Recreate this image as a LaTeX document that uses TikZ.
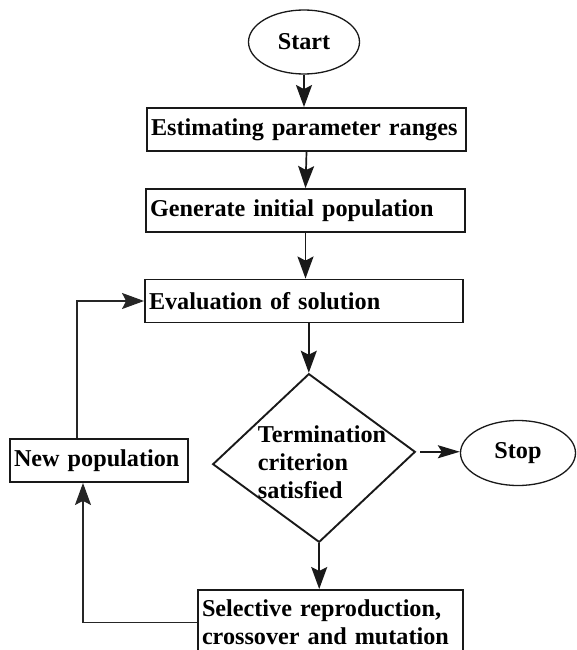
\documentclass[tikz,border=0pt]{standalone}
\usepackage{fontspec}
\setmainfont{Liberation Serif}
\usetikzlibrary{shapes.geometric, arrows.meta, positioning, calc}

\begin{document}
\begin{tikzpicture}[
    x=1pt, y=-1pt,
    font=\fontsize{24.2}{28}\selectfont\bfseries,
    >={Stealth[length=22pt, width=16pt, inset=4pt]},
    termnode/.style={draw=black!90, ellipse, line width=1.3pt, inner sep=0pt},
    procnode/.style={draw=black!90, rectangle, line width=1.9pt, minimum height=43pt, inner xsep=4pt, align=left},
    decnode/.style={draw=black!90, diamond, line width=1.9pt, inner sep=0pt},
    flow/.style={->, line width=1.7pt, black!90},
    loopflow/.style={->, line width=1.4pt, black!85}
]
    \useasboundingbox (0,0) rectangle (576,650);
    \clip (0,0) rectangle (576,650);

    % main column
    \node[termnode, minimum width=111pt, minimum height=64pt] (Start) at (304,42) {Start};
    \node[procnode, text width=311pt] (EstRange) at (306.5,129.5) {Estimating parameter ranges};
    \node[procnode, text width=311pt] (GenPop)   at (305.5,210.5) {Generate initial population};
    \node[procnode, text width=310pt] (Eval)     at (304,301)     {Evaluation of solution};
    \node[decnode, minimum width=203pt, minimum height=169pt, rotate=3.5,
          label={[align=left, xshift=8pt, yshift=-4pt]center:Termination\\criterion\\satisfied}]
          (Term) at (314,458) {};
    \node[termnode, minimum width=115pt, minimum height=65pt] (Stop) at (518,453) {Stop};
    \node[procnode, text width=257pt, inner ysep=10pt, anchor=north] (SelRep) at (330.5,589)
          {Selective reproduction,\\crossover and mutation};

    % loop back
    \node[procnode, text width=170pt] (NewPop) at (99,460.5) {New population};

    \draw[flow] (Start.south) -- (Start.south |- EstRange.north);
    \draw[flow] (EstRange.south) -- (GenPop.north);
    \draw[flow] (GenPop.south) -- (GenPop.south |- Eval.north);
    \draw[flow] (Term.north |- Eval.south) -- (Term.north);
    \draw[flow, shorten <=4pt, >={Stealth[length=22pt, width=13pt, inset=4pt]}] (Term.east) -- (Term.east -| Stop.west);
    \draw[flow] (Term.south) -- (Term.south |- SelRep.north);

    \draw[loopflow] (SelRep.west) -| ([xshift=-16pt]NewPop.south);
    \draw[loopflow] ([xshift=-22pt]NewPop.north) |- (Eval.west);

\end{tikzpicture}
\end{document}
